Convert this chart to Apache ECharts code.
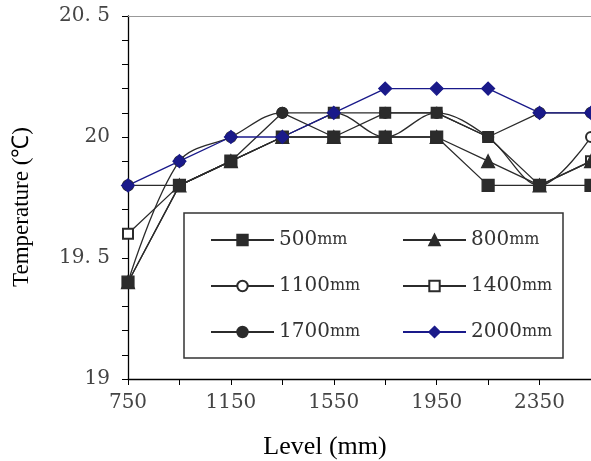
<!DOCTYPE html>
<html>
<head>
<meta charset="utf-8">
<script src="https://cdn.jsdelivr.net/npm/echarts@6/dist/echarts.min.js"></script>
<style>
  html, body { margin: 0; padding: 0; background: #fff; }
  #main { width: 591px; height: 461px; }
</style>
</head>
<body>
<div id="main"></div>
<script>
// levels along the x axis (mm)
const levels = ['750', '950', '1150', '1350', '1550', '1750', '1950', '2150', '2350', '2550'];

// temperatures
const t500  = [19.4, 19.8, 19.9, 20.0, 20.0, 20.0, 20.0, 19.8, 19.8, 19.8];
const t800  = [19.4, 19.8, 19.9, 20.0, 20.0, 20.0, 20.0, 19.9, 19.8, 19.9];
const t1100 = [19.4, 19.9, 20.0, 20.1, 20.1, 20.0, 20.1, 20.0, 19.8, 20.0];
const t1400 = [19.6, 19.8, 19.9, 20.0, 20.1, 20.1, 20.1, 20.0, 19.8, 19.9];
const t1700 = [19.8, 19.8, 19.9, 20.1, 20.0, 20.1, 20.1, 20.0, 20.1, 20.1];
const t2000 = [19.8, 19.9, 20.0, 20.0, 20.1, 20.2, 20.2, 20.2, 20.1, 20.1];

const yTicks = [19, 19.5, 20, 20.5];

const black = '#2b2b2b';
const navy = '#1a1a8a';

function mkSeries(name, data, symbol, size, color, smooth) {
    return {
        name: name,
        type: 'line',
        data: data,
        symbol: symbol,
        symbolSize: size,
        smooth: smooth || false,
        lineStyle: { color: color, width: 1.3 },
        itemStyle: { color: color, borderColor: color, borderWidth: 1.2 },
        emphasis: { disabled: true }
    };
}

const legendText = {
    fontFamily: 'DejaVu Serif',
    color: '#333',
    rich: {
        n: { fontFamily: 'DejaVu Serif', fontSize: 20, color: '#333' },
        u: { fontFamily: 'DejaVu Serif', fontSize: 16, color: '#333' }
    }
};
function legendFmt(name) {
    return '{n|' + name.replace('mm', '') + '}{u|mm}';
}

const chart = echarts.init(document.getElementById('main'));
chart.setOption({
    animation: false,
    grid: { left: 128, right: -7, top: 16, bottom: 82 },
    xAxis: [
        {
            type: 'category',
            data: levels,
            boundaryGap: false,
            axisLine: { lineStyle: { color: '#000', width: 1.3 } },
            axisTick: { interval: 0, length: 6, lineStyle: { color: '#000' } },
            axisLabel: {
                interval: 1,
                margin: 14,
                fontFamily: 'DejaVu Serif',
                fontSize: 20,
                color: '#444'
            },
            splitLine: { show: false }
        },
        {
            type: 'category',
            data: levels,
            boundaryGap: false,
            position: 'top',
            axisLine: { show: true, lineStyle: { color: '#999', width: 1 } },
            axisTick: { show: false },
            axisLabel: { show: false },
            splitLine: { show: false }
        }
    ],
    yAxis: {
        type: 'value',
        min: yTicks[0],
        max: yTicks[yTicks.length - 1],
        interval: 0.5,
        axisLine: { show: true, lineStyle: { color: '#000', width: 1.3 } },
        axisTick: { show: true, length: 6, lineStyle: { color: '#000' } },
        minorTick: { show: true, splitNumber: 5, length: 6, lineStyle: { color: '#000' } },
        splitLine: { show: false },
        axisLabel: {
            margin: 18,
            fontFamily: 'DejaVu Serif',
            fontSize: 20,
            color: '#444',
            formatter: function (v) { return String(v).replace('.', '. '); }
        }
    },
    legend: [
        {
            data: ['500mm', '1100mm', '1700mm'],
            orient: 'vertical',
            left: 205, top: 225,
            itemWidth: 63, itemHeight: 13, itemGap: 26,
            selectedMode: false,
            formatter: legendFmt,
            textStyle: legendText
        },
        {
            data: ['800mm', '1400mm', '2000mm'],
            orient: 'vertical',
            left: 397, top: 225,
            itemWidth: 63, itemHeight: 13, itemGap: 26,
            selectedMode: false,
            formatter: legendFmt,
            textStyle: legendText
        }
    ],
    graphic: [
        {
            type: 'rect',
            shape: { x: 184, y: 213, width: 379, height: 145 },
            style: { fill: '#fff', stroke: '#333', lineWidth: 1.5 }
        },
        {
            type: 'text',
            x: 325, y: 447,
            style: {
                text: 'Level (mm)',
                font: '26px "Liberation Serif"',
                fill: '#000',
                align: 'center',
                verticalAlign: 'middle'
            }
        },
        {
            type: 'text',
            x: 22, y: 207,
            rotation: Math.PI / 2,
            style: {
                text: 'Temperature (℃)',
                font: '23px "Liberation Serif"',
                fill: '#000',
                align: 'center',
                verticalAlign: 'middle'
            }
        }
    ],
    // drawing order: open markers first, filled squares and the blue line on top
    series: [
        mkSeries('1400mm', t1400, 'emptyRect', 10, black),
        mkSeries('1100mm', t1100, 'emptyCircle', 10, black, 0.35),
        mkSeries('800mm', t800, 'triangle', 13, black),
        mkSeries('1700mm', t1700, 'circle', 11, black),
        mkSeries('500mm', t500, 'rect', 12, black),
        mkSeries('2000mm', t2000, 'diamond', 13, navy)
    ]
});
</script>
</body>
</html>
